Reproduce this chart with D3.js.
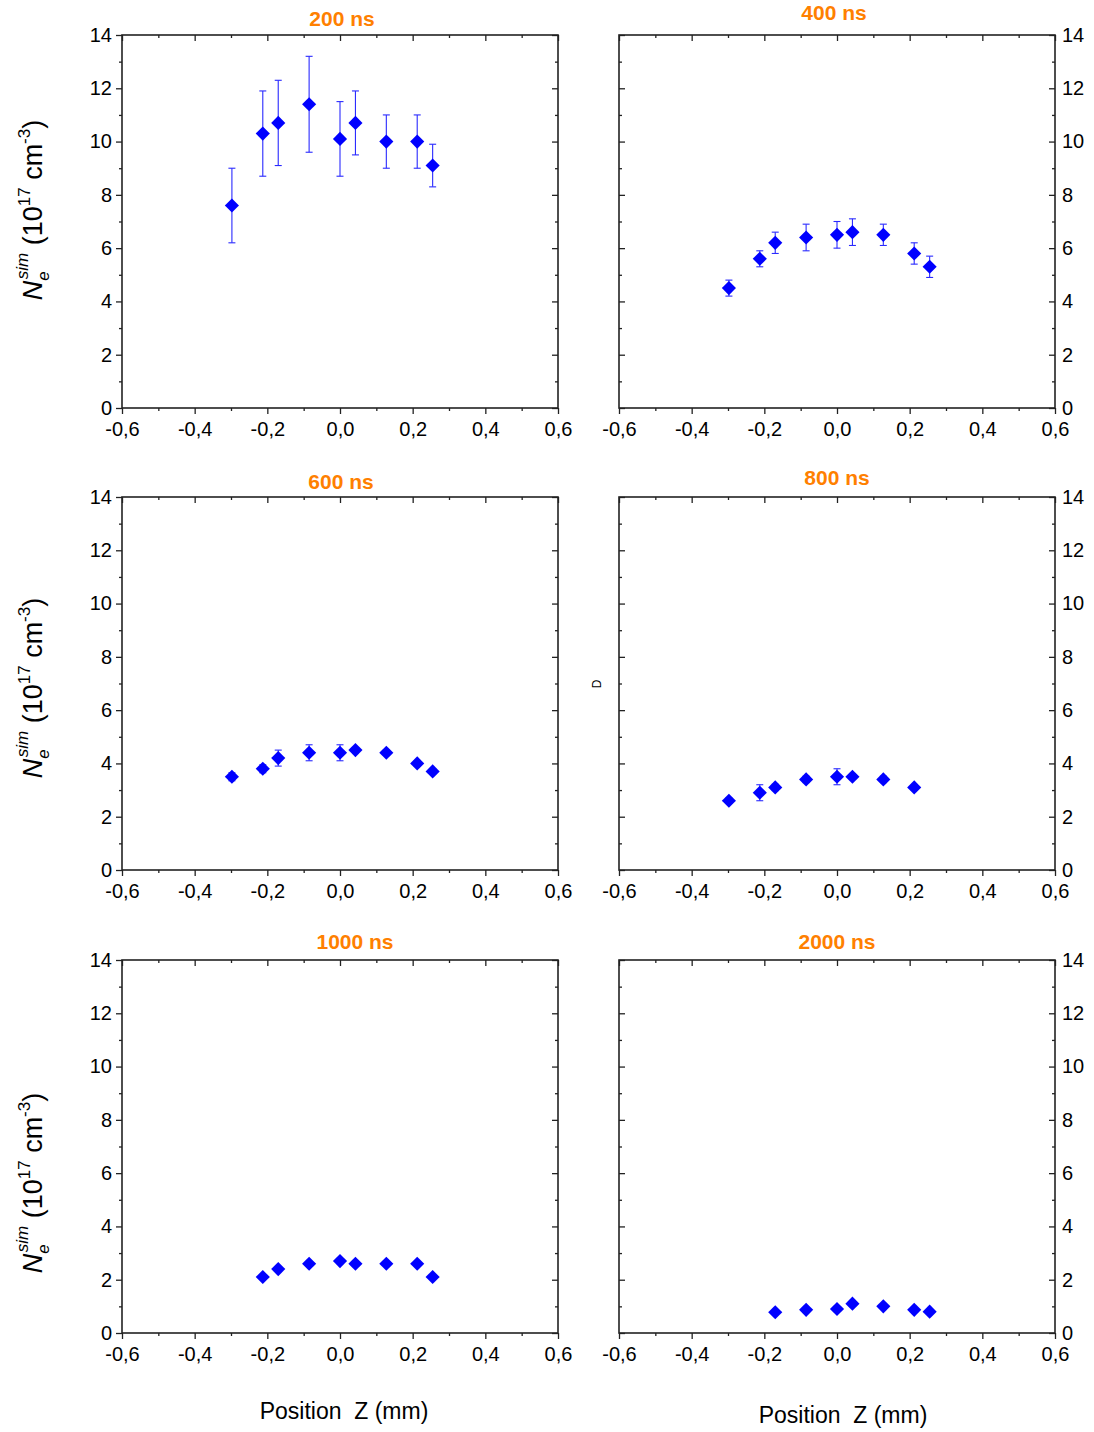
<!DOCTYPE html>
<html>
<head>
<meta charset="utf-8">
<script src="https://cdn.jsdelivr.net/npm/d3@7"></script>
<style>
  html, body { margin: 0; padding: 0; background: #fff; }
  svg { display: block; font-family: "Liberation Sans", Arial, sans-serif; }
</style>
</head>
<body>
<svg id="chart" width="1094" height="1432"></svg>
<script>
// ---------- DATA ----------
const panelTitles = ["200 ns", "400 ns", "600 ns", "800 ns", "1000 ns", "2000 ns"];

const xPosAll  = [-0.2975, -0.2125, -0.17, -0.085, 0, 0.0425, 0.1275, 0.2125, 0.255];
const xPos800  = [-0.2975, -0.2125, -0.17, -0.085, 0, 0.0425, 0.1275, 0.2125];
const xPos1000 = [-0.2125, -0.17, -0.085, 0, 0.0425, 0.1275, 0.2125, 0.255];
const xPos2000 = [-0.17, -0.085, 0, 0.0425, 0.1275, 0.2125, 0.255];

const ne200  = [7.6, 10.3, 10.7, 11.4, 10.1, 10.7, 10.0, 10.0, 9.1];
const err200 = [1.4, 1.6, 1.6, 1.8, 1.4, 1.2, 1.0, 1.0, 0.8];

const ne400  = [4.5, 5.6, 6.2, 6.4, 6.5, 6.6, 6.5, 5.8, 5.3];
const err400 = [0.3, 0.3, 0.4, 0.5, 0.5, 0.5, 0.4, 0.4, 0.4];

const ne600  = [3.5, 3.8, 4.2, 4.4, 4.4, 4.5, 4.4, 4.0, 3.7];
const err600 = [0.15, 0.15, 0.3, 0.3, 0.3, 0.1, 0.1, 0.1, 0.1];

const ne800  = [2.6, 2.9, 3.1, 3.4, 3.5, 3.5, 3.4, 3.1];
const err800 = [0.1, 0.3, 0.12, 0.12, 0.3, 0.1, 0.12, 0.1];

const ne1000  = [2.1, 2.4, 2.6, 2.7, 2.6, 2.6, 2.6, 2.1];
const err1000 = [0.05, 0.05, 0.05, 0.05, 0.05, 0.05, 0.05, 0.05];

const ne2000  = [0.78, 0.87, 0.9, 1.1, 1.0, 0.87, 0.8];
const err2000 = [0.03, 0.03, 0.03, 0.03, 0.03, 0.03, 0.03];

const xMajorTicks = [-0.6, -0.4, -0.2, 0.0, 0.2, 0.4, 0.6];
const xMinorTicks = [-0.5, -0.3, -0.1, 0.1, 0.3, 0.5];
const yMajorTicks = [0, 2, 4, 6, 8, 10, 12, 14];
const yMinorTicks = [1, 3, 5, 7, 9, 11, 13];

const xLabelText = "Position  Z (mm)";

// ---------- LAYOUT ----------
const svg = d3.select("#chart");
const colLeft = [122, 619];
const plotW = 436;
const rowTop = [35, 497, 960];
const plotH = 373;

const panels = [
  {title: panelTitles[0], xs: xPosAll,  ys: ne200,  es: err200,  col: 0, row: 0, tx: 342, ty: 26},
  {title: panelTitles[1], xs: xPosAll,  ys: ne400,  es: err400,  col: 1, row: 0, tx: 834, ty: 20},
  {title: panelTitles[2], xs: xPosAll,  ys: ne600,  es: err600,  col: 0, row: 1, tx: 341, ty: 489},
  {title: panelTitles[3], xs: xPos800,  ys: ne800,  es: err800,  col: 1, row: 1, tx: 837, ty: 485},
  {title: panelTitles[4], xs: xPos1000, ys: ne1000, es: err1000, col: 0, row: 2, tx: 355, ty: 949},
  {title: panelTitles[5], xs: xPos2000, ys: ne2000, es: err2000, col: 1, row: 2, tx: 837, ty: 949}
];

const fmtX = v => d3.format(".1f")(v).replace(".", ",").replace("\u2212", "-");
const axisColor = "#222";
const blue = "#0000ff";

function styleAxis(g) {
  g.select(".domain").remove();
  g.selectAll(".tick line").attr("stroke", axisColor).attr("stroke-width", 1.3);
  g.selectAll(".tick text").attr("fill", "#000").style("font-size", "20px")
    .style("font-family", '"Liberation Sans", Arial, sans-serif');
}

panels.forEach(p => {
  const x0 = colLeft[p.col], y0 = rowTop[p.row];
  const x = d3.scaleLinear().domain([-0.6, 0.6]).range([x0, x0 + plotW]);
  const y = d3.scaleLinear().domain([0, 14]).range([y0 + plotH, y0]);
  const g = svg.append("g");

  // bottom axis (outward ticks, labels)
  g.append("g").attr("transform", `translate(0,${y0 + plotH})`)
    .call(d3.axisBottom(x).tickValues(xMajorTicks).tickSize(6).tickSizeOuter(0).tickPadding(8).tickFormat(fmtX))
    .call(styleAxis);
  g.append("g").attr("transform", `translate(0,${y0 + plotH})`)
    .call(d3.axisBottom(x).tickValues(xMinorTicks).tickSize(3).tickSizeOuter(0).tickFormat(""))
    .call(styleAxis);
  // top axis (inward ticks)
  g.append("g").attr("transform", `translate(0,${y0})`)
    .call(d3.axisTop(x).tickValues(xMajorTicks).tickSize(-6).tickSizeOuter(0).tickFormat(""))
    .call(styleAxis);
  g.append("g").attr("transform", `translate(0,${y0})`)
    .call(d3.axisTop(x).tickValues(xMinorTicks).tickSize(-3).tickSizeOuter(0).tickFormat(""))
    .call(styleAxis);

  if (p.col === 0) {
    g.append("g").attr("transform", `translate(${x0},0)`)
      .call(d3.axisLeft(y).tickValues(yMajorTicks).tickSize(6).tickSizeOuter(0).tickPadding(4).tickFormat(d3.format("d")))
      .call(styleAxis);
    g.append("g").attr("transform", `translate(${x0},0)`)
      .call(d3.axisLeft(y).tickValues(yMinorTicks).tickSize(3).tickSizeOuter(0).tickFormat(""))
      .call(styleAxis);
    g.append("g").attr("transform", `translate(${x0 + plotW},0)`)
      .call(d3.axisRight(y).tickValues(yMajorTicks).tickSize(-6).tickSizeOuter(0).tickFormat(""))
      .call(styleAxis);
    g.append("g").attr("transform", `translate(${x0 + plotW},0)`)
      .call(d3.axisRight(y).tickValues(yMinorTicks).tickSize(-3).tickSizeOuter(0).tickFormat(""))
      .call(styleAxis);
  } else {
    g.append("g").attr("transform", `translate(${x0},0)`)
      .call(d3.axisLeft(y).tickValues(yMajorTicks).tickSize(-6).tickSizeOuter(0).tickFormat(""))
      .call(styleAxis);
    g.append("g").attr("transform", `translate(${x0},0)`)
      .call(d3.axisLeft(y).tickValues(yMinorTicks).tickSize(-3).tickSizeOuter(0).tickFormat(""))
      .call(styleAxis);
    g.append("g").attr("transform", `translate(${x0 + plotW},0)`)
      .call(d3.axisRight(y).tickValues(yMajorTicks).tickSize(-6).tickSizeOuter(0).tickPadding(7).tickFormat(d3.format("d")))
      .call(styleAxis);
    g.append("g").attr("transform", `translate(${x0 + plotW},0)`)
      .call(d3.axisRight(y).tickValues(yMinorTicks).tickSize(-3).tickSizeOuter(0).tickFormat(""))
      .call(styleAxis);
  }

  // frame
  g.append("rect").attr("x", x0).attr("y", y0).attr("width", plotW).attr("height", plotH)
    .attr("fill", "none").attr("stroke", axisColor).attr("stroke-width", 1.6);

  // title
  g.append("text").attr("x", p.tx).attr("y", p.ty).attr("text-anchor", "middle")
    .style("font-size", "21px").style("font-weight", "bold").attr("fill", "#ff8000")
    .text(p.title);

  const data = p.xs.map((v, i) => ({x: v, y: p.ys[i], e: p.es[i]}));

  // error bars
  const eb = g.append("g").attr("stroke", "#2a2aff").attr("stroke-width", 1.1);
  data.forEach(d => {
    const cx = x(d.x), yt = y(d.y + d.e), yb = y(d.y - d.e);
    eb.append("line").attr("x1", cx).attr("x2", cx).attr("y1", yt).attr("y2", yb);
    eb.append("line").attr("x1", cx - 3.5).attr("x2", cx + 3.5).attr("y1", yt).attr("y2", yt);
    eb.append("line").attr("x1", cx - 3.5).attr("x2", cx + 3.5).attr("y1", yb).attr("y2", yb);
  });

  // markers (diamonds)
  const sym = d3.symbol().type(d3.symbolSquare).size(100);
  g.append("g").selectAll("path").data(data).join("path")
    .attr("d", sym)
    .attr("transform", d => `translate(${x(d.x)},${y(d.y)}) rotate(45)`)
    .attr("fill", blue);
});

// y-axis titles
function yTitle(cx, cy) {
  const t = svg.append("text").attr("transform", `translate(${cx},${cy}) rotate(-90)`)
    .attr("text-anchor", "middle").style("font-size", "27px").attr("fill", "#000");
  t.append("tspan").style("font-style", "italic").text("N");
  t.append("tspan").style("font-style", "italic").style("font-size", "17px").attr("dy", 7).text("e");
  t.append("tspan").style("font-style", "italic").style("font-size", "17px").attr("dx", -8).attr("dy", -21).text("sim");
  t.append("tspan").attr("dy", 14).text("\u00a0(10");
  t.append("tspan").style("font-size", "17px").attr("dy", -12).text("17");
  t.append("tspan").attr("dy", 12).text("\u00a0cm");
  t.append("tspan").style("font-size", "17px").attr("dy", -12).text("-3");
  t.append("tspan").attr("dy", 12).text(")");
}
yTitle(42, 210);
yTitle(42, 688);
yTitle(42, 1183);

// small stray label in the 800 ns panel
svg.append("text").attr("transform", "translate(601,684) rotate(-90)")
  .attr("text-anchor", "middle").style("font-size", "12px").attr("fill", "#000").text("D");

// x-axis titles
svg.append("text").attr("x", 344).attr("y", 1419).attr("text-anchor", "middle")
  .style("font-size", "23px").style("white-space", "pre").attr("fill", "#000").text(xLabelText);
svg.append("text").attr("x", 843).attr("y", 1423).attr("text-anchor", "middle")
  .style("font-size", "23px").style("white-space", "pre").attr("fill", "#000").text(xLabelText);
</script>
</body>
</html>
